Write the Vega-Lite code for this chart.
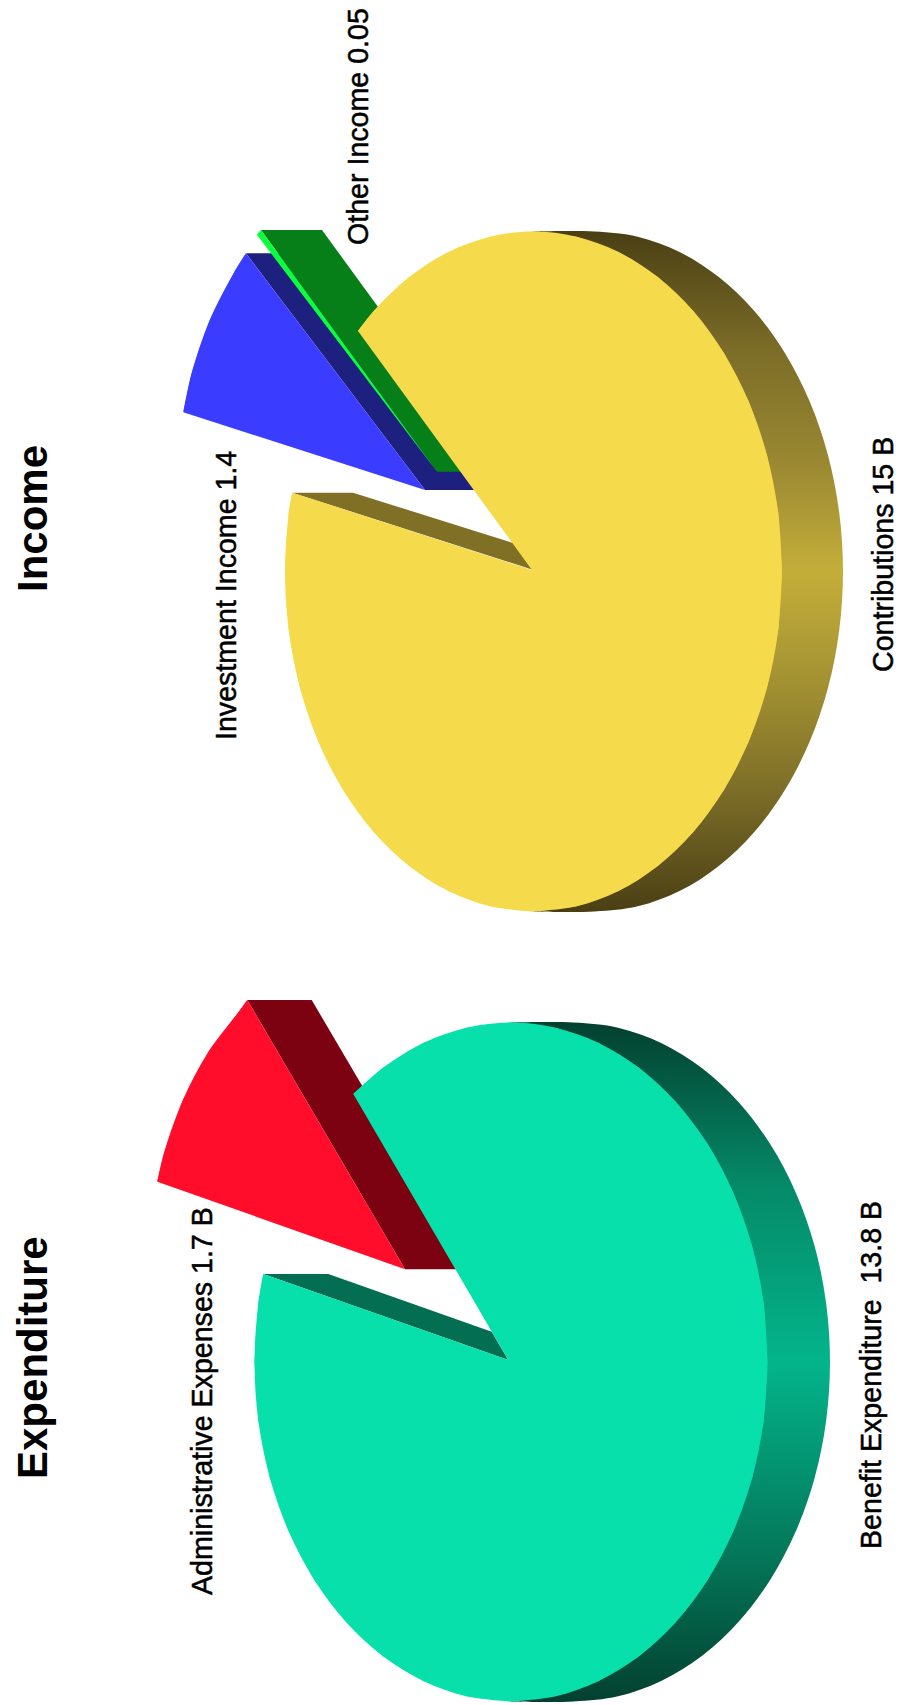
{"$schema":"https://vega.github.io/schema/vega-lite/v6.json","width":906,"height":1705,"padding":0,"autosize":{"type":"fit","contains":"padding"},"background":"white","config":{"view":{"stroke":null}},
"datasets":{
"green_wall":[{"i":0,"x":261,"y":230},{"i":1,"x":322,"y":230},{"i":2,"x":498,"y":471.7},{"i":3,"x":437,"y":471.7}],
"navy_wall":[{"i":0,"x":246,"y":253.3},{"i":1,"x":307,"y":253.3},{"i":2,"x":486,"y":490},{"i":3,"x":425,"y":490}],
"blue_top":[{"i":0,"x":425,"y":490},{"i":1,"x":183.3,"y":412.3},{"i":2,"x":191.5,"y":373.7},{"i":3,"x":209.8,"y":320},{"i":4,"x":234.6,"y":271.5},{"i":5,"x":246,"y":253.3}],
"blue_arc":[{"i":1,"x":183.3,"y":412.3},{"i":2,"x":191.5,"y":373.7},{"i":3,"x":209.8,"y":320},{"i":4,"x":234.6,"y":271.5},{"i":5,"x":246,"y":253.3}],
"lime_top":[{"i":0,"x":437,"y":471.7},{"i":1,"x":256.7,"y":234.5},{"i":2,"x":261,"y":230}],
"yellow_side":[{"i":0,"x":533.5,"y":231.5},{"i":1,"x":594.5,"y":231.5},{"i":2,"x":637.7,"y":236.7},{"i":3,"x":679.5,"y":252},{"i":4,"x":718.8,"y":277.1},{"i":5,"x":754.3,"y":311},{"i":6,"x":784.9,"y":353},{"i":7,"x":809.7,"y":401.5},{"i":8,"x":828,"y":455.2},{"i":9,"x":839.2,"y":512.5},{"i":10,"x":843,"y":571.5},{"i":11,"x":839.2,"y":630.5},{"i":12,"x":828,"y":687.8},{"i":13,"x":809.7,"y":741.5},{"i":14,"x":784.9,"y":790},{"i":15,"x":754.3,"y":832},{"i":16,"x":718.8,"y":865.9},{"i":17,"x":679.5,"y":891},{"i":18,"x":637.7,"y":906.3},{"i":19,"x":594.5,"y":911.5},{"i":20,"x":533.5,"y":911.5}],
"yellow_wall":[{"i":0,"x":292.3,"y":492.7},{"i":1,"x":353,"y":492.7},{"i":2,"x":513,"y":543},{"i":3,"x":532,"y":569.5}],
"yellow_top":[{"i":0,"x":532,"y":570},{"i":1,"x":358,"y":331},{"i":2,"x":373.7,"y":311},{"i":3,"x":409.2,"y":277.1},{"i":4,"x":448.5,"y":252},{"i":5,"x":490.3,"y":236.7},{"i":6,"x":533.5,"y":231.5},{"i":7,"x":576.7,"y":236.7},{"i":8,"x":618.5,"y":252},{"i":9,"x":657.8,"y":277.1},{"i":10,"x":693.3,"y":311},{"i":11,"x":723.9,"y":353},{"i":12,"x":748.7,"y":401.5},{"i":13,"x":767,"y":455.2},{"i":14,"x":778.2,"y":512.5},{"i":15,"x":782,"y":571.5},{"i":16,"x":778.2,"y":630.5},{"i":17,"x":767,"y":687.8},{"i":18,"x":748.7,"y":741.5},{"i":19,"x":723.9,"y":790},{"i":20,"x":693.3,"y":832},{"i":21,"x":657.8,"y":865.9},{"i":22,"x":618.5,"y":891},{"i":23,"x":576.7,"y":906.3},{"i":24,"x":533.5,"y":911.5},{"i":25,"x":490.3,"y":906.3},{"i":26,"x":448.5,"y":891},{"i":27,"x":409.2,"y":865.9},{"i":28,"x":373.7,"y":832},{"i":29,"x":343.1,"y":790},{"i":30,"x":318.3,"y":741.5},{"i":31,"x":300,"y":687.8},{"i":32,"x":288.8,"y":630.5},{"i":33,"x":285,"y":571.5},{"i":34,"x":288.8,"y":512.5},{"i":35,"x":292.3,"y":492.7}],
"yellow_arcs":[{"piece":"a","i":1,"x":358,"y":331},{"piece":"a","i":2,"x":373.7,"y":311},{"piece":"a","i":3,"x":409.2,"y":277.1},{"piece":"a","i":4,"x":448.5,"y":252},{"piece":"a","i":5,"x":490.3,"y":236.7},{"piece":"a","i":6,"x":533.5,"y":231.5},{"piece":"a","i":7,"x":576.7,"y":236.7},{"piece":"a","i":8,"x":618.5,"y":252},{"piece":"a","i":9,"x":657.8,"y":277.1},{"piece":"a","i":10,"x":693.3,"y":311},{"piece":"a","i":11,"x":723.9,"y":353},{"piece":"a","i":12,"x":748.7,"y":401.5},{"piece":"a","i":13,"x":767,"y":455.2},{"piece":"a","i":14,"x":778.2,"y":512.5},{"piece":"a","i":15,"x":782,"y":571.5},{"piece":"b","i":15,"x":782,"y":571.5},{"piece":"b","i":16,"x":778.2,"y":630.5},{"piece":"b","i":17,"x":767,"y":687.8},{"piece":"b","i":18,"x":748.7,"y":741.5},{"piece":"b","i":19,"x":723.9,"y":790},{"piece":"b","i":20,"x":693.3,"y":832},{"piece":"b","i":21,"x":657.8,"y":865.9},{"piece":"b","i":22,"x":618.5,"y":891},{"piece":"b","i":23,"x":576.7,"y":906.3},{"piece":"b","i":24,"x":533.5,"y":911.5},{"piece":"c","i":24,"x":533.5,"y":911.5},{"piece":"c","i":25,"x":490.3,"y":906.3},{"piece":"c","i":26,"x":448.5,"y":891},{"piece":"c","i":27,"x":409.2,"y":865.9},{"piece":"c","i":28,"x":373.7,"y":832},{"piece":"c","i":29,"x":343.1,"y":790},{"piece":"c","i":30,"x":318.3,"y":741.5},{"piece":"c","i":31,"x":300,"y":687.8},{"piece":"c","i":32,"x":288.8,"y":630.5},{"piece":"c","i":33,"x":285,"y":571.5},{"piece":"c","i":34,"x":288.8,"y":512.5},{"piece":"c","i":35,"x":292.3,"y":492.7}],
"darkred_wall":[{"i":0,"x":247.3,"y":1000},{"i":1,"x":311.7,"y":1000},{"i":2,"x":470,"y":1269.3},{"i":3,"x":405,"y":1269.3}],
"red_top":[{"i":0,"x":405,"y":1269.3},{"i":1,"x":157.3,"y":1181.7},{"i":2,"x":163.9,"y":1153.4},{"i":3,"x":182.9,"y":1100},{"i":4,"x":208.5,"y":1051.7},{"i":5,"x":240.1,"y":1010.1},{"i":6,"x":247.3,"y":1000}],
"red_arc":[{"i":1,"x":157.3,"y":1181.7},{"i":2,"x":163.9,"y":1153.4},{"i":3,"x":182.9,"y":1100},{"i":4,"x":208.5,"y":1051.7},{"i":5,"x":240.1,"y":1010.1},{"i":6,"x":247.3,"y":1000}],
"teal_side":[{"i":0,"x":511,"y":1022.5},{"i":1,"x":573.5,"y":1022.5},{"i":2,"x":618,"y":1027.7},{"i":3,"x":661.2,"y":1043},{"i":4,"x":701.8,"y":1068},{"i":5,"x":738.4,"y":1101.9},{"i":6,"x":770,"y":1143.8},{"i":7,"x":795.6,"y":1192.2},{"i":8,"x":814.6,"y":1245.9},{"i":9,"x":826.1,"y":1303},{"i":10,"x":830,"y":1362},{"i":11,"x":826.1,"y":1421},{"i":12,"x":814.6,"y":1478.1},{"i":13,"x":795.6,"y":1531.8},{"i":14,"x":770,"y":1580.2},{"i":15,"x":738.4,"y":1622.1},{"i":16,"x":701.8,"y":1656},{"i":17,"x":661.2,"y":1681},{"i":18,"x":618,"y":1696.3},{"i":19,"x":573.5,"y":1701.5},{"i":20,"x":511,"y":1701.5}],
"teal_wall":[{"i":0,"x":263.3,"y":1274},{"i":1,"x":328.3,"y":1274},{"i":2,"x":491.7,"y":1331.7},{"i":3,"x":508.3,"y":1360}],
"teal_top":[{"i":0,"x":508.3,"y":1360},{"i":1,"x":353.3,"y":1094},{"i":2,"x":382.7,"y":1068},{"i":3,"x":423.3,"y":1043},{"i":4,"x":466.5,"y":1027.7},{"i":5,"x":511,"y":1022.5},{"i":6,"x":555.5,"y":1027.7},{"i":7,"x":598.7,"y":1043},{"i":8,"x":639.3,"y":1068},{"i":9,"x":675.9,"y":1101.9},{"i":10,"x":707.5,"y":1143.8},{"i":11,"x":733.1,"y":1192.2},{"i":12,"x":752.1,"y":1245.9},{"i":13,"x":763.6,"y":1303},{"i":14,"x":767.5,"y":1362},{"i":15,"x":763.6,"y":1421},{"i":16,"x":752.1,"y":1478.1},{"i":17,"x":733.1,"y":1531.8},{"i":18,"x":707.5,"y":1580.2},{"i":19,"x":675.9,"y":1622.1},{"i":20,"x":639.3,"y":1656},{"i":21,"x":598.7,"y":1681},{"i":22,"x":555.5,"y":1696.3},{"i":23,"x":511,"y":1701.5},{"i":24,"x":466.5,"y":1696.3},{"i":25,"x":423.3,"y":1681},{"i":26,"x":382.7,"y":1656},{"i":27,"x":346.1,"y":1622.1},{"i":28,"x":314.5,"y":1580.2},{"i":29,"x":288.9,"y":1531.8},{"i":30,"x":269.9,"y":1478.1},{"i":31,"x":258.4,"y":1421},{"i":32,"x":254.5,"y":1362},{"i":33,"x":258.4,"y":1303},{"i":34,"x":263.3,"y":1274}],
"teal_arcs":[{"piece":"a","i":1,"x":353.3,"y":1094},{"piece":"a","i":2,"x":382.7,"y":1068},{"piece":"a","i":3,"x":423.3,"y":1043},{"piece":"a","i":4,"x":466.5,"y":1027.7},{"piece":"a","i":5,"x":511,"y":1022.5},{"piece":"a","i":6,"x":555.5,"y":1027.7},{"piece":"a","i":7,"x":598.7,"y":1043},{"piece":"a","i":8,"x":639.3,"y":1068},{"piece":"a","i":9,"x":675.9,"y":1101.9},{"piece":"a","i":10,"x":707.5,"y":1143.8},{"piece":"a","i":11,"x":733.1,"y":1192.2},{"piece":"a","i":12,"x":752.1,"y":1245.9},{"piece":"a","i":13,"x":763.6,"y":1303},{"piece":"a","i":14,"x":767.5,"y":1362},{"piece":"b","i":14,"x":767.5,"y":1362},{"piece":"b","i":15,"x":763.6,"y":1421},{"piece":"b","i":16,"x":752.1,"y":1478.1},{"piece":"b","i":17,"x":733.1,"y":1531.8},{"piece":"b","i":18,"x":707.5,"y":1580.2},{"piece":"b","i":19,"x":675.9,"y":1622.1},{"piece":"b","i":20,"x":639.3,"y":1656},{"piece":"b","i":21,"x":598.7,"y":1681},{"piece":"b","i":22,"x":555.5,"y":1696.3},{"piece":"b","i":23,"x":511,"y":1701.5},{"piece":"c","i":23,"x":511,"y":1701.5},{"piece":"c","i":24,"x":466.5,"y":1696.3},{"piece":"c","i":25,"x":423.3,"y":1681},{"piece":"c","i":26,"x":382.7,"y":1656},{"piece":"c","i":27,"x":346.1,"y":1622.1},{"piece":"c","i":28,"x":314.5,"y":1580.2},{"piece":"c","i":29,"x":288.9,"y":1531.8},{"piece":"c","i":30,"x":269.9,"y":1478.1},{"piece":"c","i":31,"x":258.4,"y":1421},{"piece":"c","i":32,"x":254.5,"y":1362},{"piece":"c","i":33,"x":258.4,"y":1303},{"piece":"c","i":34,"x":263.3,"y":1274}],
"titles":[{"x":47,"y":592,"label":"Income"},{"x":47,"y":1479,"label":"Expenditure"}],
"labels":[{"x":368,"y":245,"label":"Other Income 0.05"},{"x":235.7,"y":740,"label":"Investment Income 1.4"},{"x":893,"y":672,"label":"Contributions 15 B"},{"x":212,"y":1595,"label":"Administrative Expenses 1.7 B"},{"x":881,"y":1549,"label":"Benefit Expenditure\u00a0\u00a013.8 B"}]
},
"encoding":{"x":{"field":"x","type":"quantitative","axis":null,"scale":{"domain":[0,906],"nice":false,"zero":false}},"y":{"field":"y","type":"quantitative","axis":null,"scale":{"domain":[0,1705],"nice":false,"zero":false,"reverse":true}}},
"layer":[
{"data":{"name":"navy_wall"},"mark":{"type":"line","fill":"#1e2080","strokeWidth":0},"encoding":{"order":{"field":"i","type":"quantitative"}}},
{"data":{"name":"blue_top"},"mark":{"type":"line","fill":"#3a3dff","strokeWidth":0},"encoding":{"order":{"field":"i","type":"quantitative"}}},
{"data":{"name":"blue_arc"},"mark":{"type":"line","interpolate":"catmull-rom","fill":"#3a3dff","strokeWidth":0},"encoding":{"order":{"field":"i","type":"quantitative"}}},
{"data":{"name":"green_wall"},"mark":{"type":"line","fill":"#067f18","strokeWidth":0},"encoding":{"order":{"field":"i","type":"quantitative"}}},
{"data":{"name":"lime_top"},"mark":{"type":"line","fill":"#0cff3c","strokeWidth":0},"encoding":{"order":{"field":"i","type":"quantitative"}}},
{"data":{"name":"yellow_side"},"encoding":{"order":{"field":"i","type":"quantitative"}},"mark":{"type":"line","interpolate":"catmull-rom","strokeWidth":0,"fill":{"gradient":"linear","x1":0,"y1":0,"x2":0,"y2":1,"stops":[{"offset":0,"color":"#4a3f14"},{"offset":0.18,"color":"#7d6e28"},{"offset":0.34,"color":"#9a8832"},{"offset":0.5,"color":"#c4ae3a"},{"offset":0.66,"color":"#a39232"},{"offset":0.82,"color":"#7d6e28"},{"offset":1,"color":"#4a3f14"}]}}},
{"data":{"name":"yellow_wall"},"mark":{"type":"line","fill":"#7f7025","strokeWidth":0},"encoding":{"order":{"field":"i","type":"quantitative"}}},
{"data":{"name":"yellow_top"},"mark":{"type":"line","fill":"#f5da4b","strokeWidth":0},"encoding":{"order":{"field":"i","type":"quantitative"}}},
{"data":{"name":"yellow_arcs"},"mark":{"type":"line","interpolate":"catmull-rom","fill":"#f5da4b","strokeWidth":0},"encoding":{"order":{"field":"i","type":"quantitative"},"detail":{"field":"piece"}}},
{"data":{"name":"darkred_wall"},"mark":{"type":"line","fill":"#7c0212","strokeWidth":0},"encoding":{"order":{"field":"i","type":"quantitative"}}},
{"data":{"name":"red_top"},"mark":{"type":"line","fill":"#ff0d2b","strokeWidth":0},"encoding":{"order":{"field":"i","type":"quantitative"}}},
{"data":{"name":"red_arc"},"mark":{"type":"line","interpolate":"catmull-rom","fill":"#ff0d2b","strokeWidth":0},"encoding":{"order":{"field":"i","type":"quantitative"}}},
{"data":{"name":"teal_side"},"encoding":{"order":{"field":"i","type":"quantitative"}},"mark":{"type":"line","interpolate":"catmull-rom","strokeWidth":0,"fill":{"gradient":"linear","x1":0,"y1":0,"x2":0,"y2":1,"stops":[{"offset":0,"color":"#03402f"},{"offset":0.24,"color":"#058a68"},{"offset":0.5,"color":"#03b48b"},{"offset":0.77,"color":"#047a5c"},{"offset":1,"color":"#03402f"}]}}},
{"data":{"name":"teal_wall"},"mark":{"type":"line","fill":"#046e52","strokeWidth":0},"encoding":{"order":{"field":"i","type":"quantitative"}}},
{"data":{"name":"teal_top"},"mark":{"type":"line","fill":"#08e0ac","strokeWidth":0},"encoding":{"order":{"field":"i","type":"quantitative"}}},
{"data":{"name":"teal_arcs"},"mark":{"type":"line","interpolate":"catmull-rom","fill":"#08e0ac","strokeWidth":0},"encoding":{"order":{"field":"i","type":"quantitative"},"detail":{"field":"piece"}}},
{"data":{"name":"titles"},"mark":{"type":"text","angle":270,"align":"left","baseline":"alphabetic","font":"Liberation Sans","fontWeight":"bold","fontSize":42,"fill":"black"},"encoding":{"text":{"field":"label"}}},
{"data":{"name":"labels"},"mark":{"type":"text","angle":270,"align":"left","baseline":"alphabetic","font":"Liberation Sans","fontSize":28.6,"fill":"black","stroke":"black","strokeWidth":0.5},"encoding":{"text":{"field":"label"}}}
]}
